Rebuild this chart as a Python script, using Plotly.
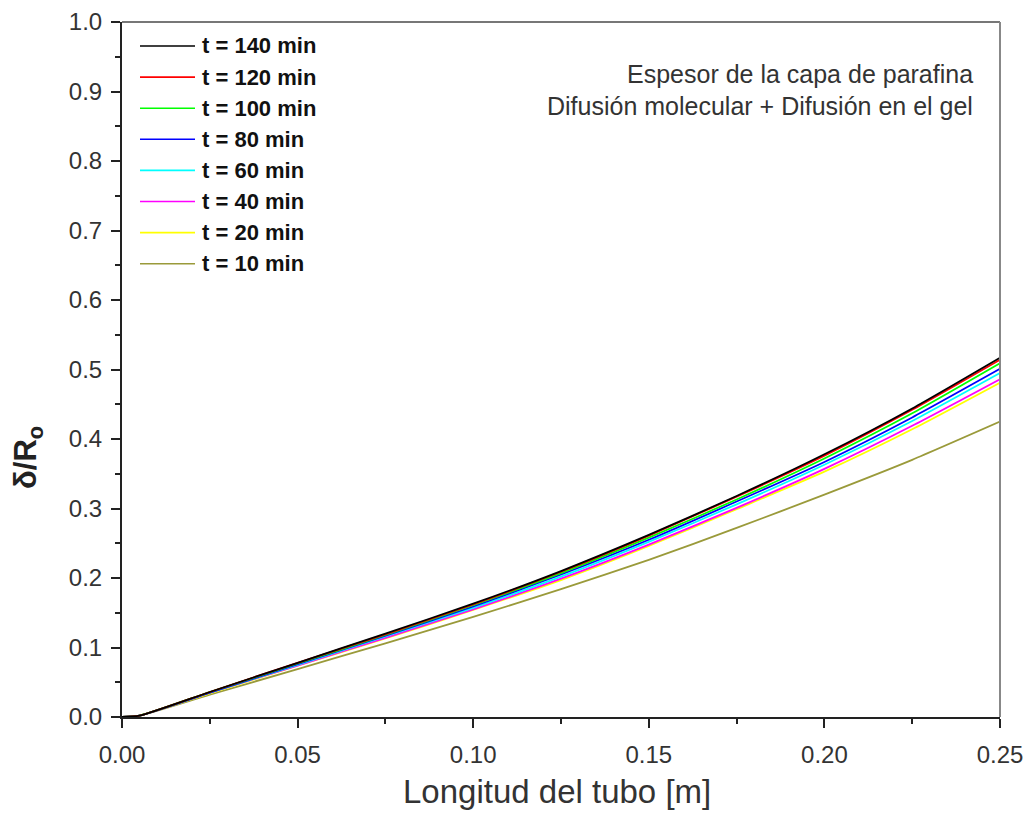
import plotly.graph_objects as go

# Axial position along the tube [m]
longitud = [0.0, 0.005, 0.025, 0.05, 0.075, 0.10, 0.125, 0.15, 0.175, 0.20, 0.225, 0.25]

# Dimensionless wax layer thickness delta/Ro for each elapsed time
t140 = [0.0, 0.002, 0.036, 0.078, 0.120, 0.163, 0.210, 0.262, 0.318, 0.378, 0.444, 0.517]
t120 = [0.0, 0.002, 0.036, 0.078, 0.119, 0.162, 0.209, 0.261, 0.317, 0.376, 0.442, 0.514]
t100 = [0.0, 0.002, 0.036, 0.077, 0.118, 0.161, 0.207, 0.258, 0.313, 0.372, 0.437, 0.509]
t80 = [0.0, 0.002, 0.035, 0.076, 0.117, 0.159, 0.205, 0.255, 0.310, 0.367, 0.431, 0.501]
t60 = [0.0, 0.002, 0.035, 0.075, 0.116, 0.157, 0.202, 0.252, 0.306, 0.363, 0.426, 0.495]
t40 = [0.0, 0.002, 0.035, 0.074, 0.114, 0.155, 0.199, 0.248, 0.301, 0.357, 0.419, 0.486]
t20 = [0.0, 0.002, 0.034, 0.074, 0.113, 0.154, 0.197, 0.246, 0.299, 0.353, 0.414, 0.481]
t10 = [0.0, 0.002, 0.032, 0.069, 0.106, 0.144, 0.184, 0.226, 0.272, 0.320, 0.370, 0.425]

labels = ["t = 140 min", "t = 120 min", "t = 100 min", "t = 80 min",
          "t = 60 min", "t = 40 min", "t = 20 min", "t = 10 min"]
series = [t140, t120, t100, t80, t60, t40, t20, t10]
colors = ["#000000", "#ff0000", "#00ff00", "#0000ff",
          "#00ffff", "#ff00ff", "#ffff00", "#9a9a3a"]

FONT = "Liberation Sans, Arial, sans-serif"

fig = go.Figure()
# draw the shortest time first so the longer times sit on top
for name, ys, c in reversed(list(zip(labels, series, colors))):
    fig.add_trace(go.Scatter(
        x=longitud, y=ys, mode="lines", name=name, showlegend=False,
        line=dict(color=c, width=1.8, shape="spline", smoothing=0.6),
    ))

# hand-drawn legend box in the upper-left corner of the plot area
PLOT_W, PLOT_H = 878.0, 695.0
for i, (name, c) in enumerate(zip(labels, colors)):
    yp = 1 - (24 + 31.1 * i) / PLOT_H
    fig.add_shape(type="line", xref="paper", yref="paper",
                  x0=18 / PLOT_W, x1=73 / PLOT_W, y0=yp, y1=yp,
                  line=dict(color=c, width=1.6))
    fig.add_annotation(xref="paper", yref="paper", x=78 / PLOT_W, y=yp,
                       xanchor="left", yanchor="middle", showarrow=False,
                       text="<b>%s</b>" % name,
                       font=dict(family=FONT, size=22, color="#111111"))

tick_font = dict(family=FONT, size=24, color="#333333")

fig.update_layout(
    width=1029, height=814,
    margin=dict(l=122, r=29, t=22, b=97),
    paper_bgcolor="white", plot_bgcolor="white",
    showlegend=False,
    xaxis=dict(
        range=[0, 0.25], tickvals=[0, 0.05, 0.10, 0.15, 0.20, 0.25],
        ticktext=["0.00", "0.05", "0.10", "0.15", "0.20", "0.25"],
        ticks="outside", ticklen=9, tickwidth=2, tickcolor="#222222",
        minor=dict(dtick=0.025, tick0=0, ticks="outside", ticklen=5, tickwidth=2, tickcolor="#222222"),
        showline=True, linecolor="#222222", linewidth=2, mirror=False,
        showgrid=False, zeroline=False, tickfont=tick_font, automargin=False,
        ticklabelstandoff=6,
    ),
    yaxis=dict(
        range=[0, 1.0], dtick=0.1, tickformat=".1f",
        ticks="outside", ticklen=9, tickwidth=2, tickcolor="#222222",
        minor=dict(dtick=0.05, tick0=0, ticks="outside", ticklen=5, tickwidth=2, tickcolor="#222222"),
        showline=True, linecolor="#222222", linewidth=2, mirror=False,
        showgrid=False, zeroline=False, tickfont=tick_font, automargin=False,
        ticklabelstandoff=4,
    ),
)

# axis labels
fig.add_annotation(xref="paper", yref="paper", x=(557 - 122) / PLOT_W, y=(717 - 791) / PLOT_H,
                   xanchor="center", yanchor="middle", showarrow=False,
                   text="Longitud del tubo [m]",
                   font=dict(family=FONT, size=33, color="#333333"))
fig.add_annotation(xref="paper", yref="paper", x=(28 - 122) / PLOT_W, y=(717 - 458) / PLOT_H,
                   xanchor="center", yanchor="middle", textangle=-90, showarrow=False,
                   text="<b>δ/R<sub>o</sub></b>",
                   font=dict(family=FONT, size=31, color="#222222"))

# frame on the top and right edges
fig.add_shape(type="line", xref="paper", yref="paper", x0=0, x1=1, y0=1, y1=1,
              line=dict(color="#777777", width=2))
fig.add_shape(type="line", xref="paper", yref="paper", x0=1, x1=1, y0=0, y1=1,
              line=dict(color="#888888", width=2))

note_font = dict(family=FONT, size=25, color="#333333")
fig.add_annotation(xref="paper", yref="paper", x=(975 - 122) / PLOT_W, y=(717 - 74) / PLOT_H,
                   xanchor="right", yanchor="middle",
                   text="Espesor de la capa de parafina", showarrow=False, font=note_font)
fig.add_annotation(xref="paper", yref="paper", x=(975 - 122) / PLOT_W, y=(717 - 106) / PLOT_H,
                   xanchor="right", yanchor="middle",
                   text="Difusión molecular + Difusión en el gel", showarrow=False, font=note_font)

fig.write_html("out.html")
